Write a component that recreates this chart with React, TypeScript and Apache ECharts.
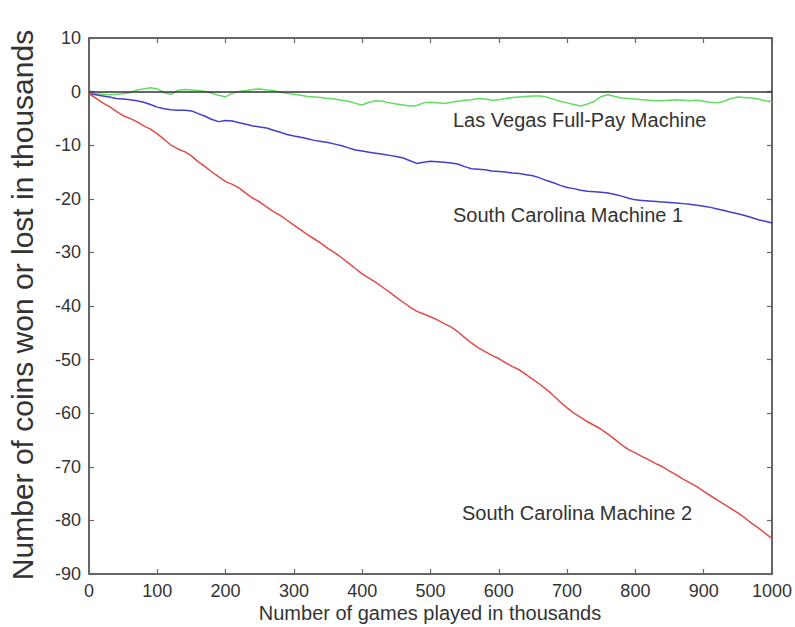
import React, { useEffect, useRef } from "react";
import * as echarts from "echarts";

const games = Array.from({ length: 101 }, (_, i) => i * 10);

const lasVegas = [
  -0.4, -0.4, -0.5, -0.6, -0.5, -0.4, -0.2, 0.3, 0.5, 0.7,
  0.5, -0.2, -0.5, 0.2, 0.4, 0.3, 0.2, 0.0, -0.3, -0.7,
  -1.0, -0.3, 0.0, 0.2, 0.4, 0.5, 0.3, 0.2, -0.1, -0.3,
  -0.5, -0.7, -0.9, -1.0, -1.1, -1.3, -1.4, -1.6, -1.8, -2.2,
  -2.5, -2.0, -1.7, -1.8, -2.1, -2.3, -2.5, -2.7, -2.6, -2.1,
  -2.0, -2.1, -2.2, -2.0, -1.8, -1.6, -1.5, -1.3, -1.4, -1.6,
  -1.5, -1.3, -1.1, -1.0, -0.9, -0.8, -0.8, -1.0, -1.4, -1.8,
  -2.1, -2.4, -2.7, -2.3, -1.8, -0.9, -0.6, -0.9, -1.2, -1.3,
  -1.4, -1.5, -1.6, -1.7, -1.7, -1.6, -1.5, -1.6, -1.7, -1.6,
  -1.8, -2.0, -2.1, -1.8, -1.3, -1.0, -1.1, -1.2, -1.4, -1.7,
  -1.9,
];

const southCarolina1 = [
  -0.4, -0.6, -0.8, -1.0, -1.3, -1.4, -1.5, -1.7, -2.0, -2.4,
  -2.9, -3.2, -3.4, -3.5, -3.5, -3.6, -4.1, -4.6, -5.2, -5.6,
  -5.4, -5.5, -5.8, -6.1, -6.4, -6.6, -6.8, -7.2, -7.6, -8.0,
  -8.3, -8.5, -8.8, -9.1, -9.3, -9.5, -9.8, -10.1, -10.5, -10.9,
  -11.1, -11.3, -11.5, -11.7, -11.9, -12.1, -12.4, -12.9, -13.4, -13.2,
  -13.0, -13.1, -13.2, -13.3, -13.5, -14.0, -14.4, -14.5, -14.6, -14.8,
  -14.9, -15.0, -15.2, -15.3, -15.5, -15.7, -16.1, -16.6, -17.0, -17.5,
  -17.9, -18.1, -18.4, -18.6, -18.7, -18.8, -18.9, -19.2, -19.5, -19.9,
  -20.2, -20.3, -20.4, -20.5, -20.6, -20.7, -20.8, -20.9, -21.0, -21.2,
  -21.4, -21.6, -21.9, -22.2, -22.5, -22.8, -23.1, -23.5, -23.9, -24.2,
  -24.5,
];

const southCarolina2 = [
  -0.4, -1.2, -2.1, -2.8, -3.7, -4.5, -5.0, -5.6, -6.4, -7.0,
  -7.9, -8.9, -10.0, -10.7, -11.2, -12.0, -13.1, -14.0, -15.0, -15.9,
  -16.8, -17.3, -18.0, -19.0, -19.9, -20.6, -21.5, -22.4, -23.1, -24.0,
  -24.9, -25.8, -26.7, -27.5, -28.3, -29.3, -30.1, -31.0, -32.0, -33.0,
  -34.0, -34.8, -35.6, -36.5, -37.4, -38.4, -39.3, -40.2, -41.0, -41.5,
  -42.0, -42.6, -43.3, -43.9, -44.8, -45.9, -46.9, -47.8, -48.5, -49.2,
  -49.8, -50.6, -51.3, -51.9, -52.8, -53.7, -54.6, -55.6, -56.7, -57.9,
  -59.0, -60.0, -60.8, -61.6, -62.3, -63.0, -63.9, -64.9, -65.9, -66.8,
  -67.4, -68.1, -68.7, -69.4, -70.0, -70.8, -71.5, -72.3, -73.0, -73.7,
  -74.6, -75.4, -76.2, -77.0, -77.8, -78.6, -79.5, -80.5, -81.4, -82.4,
  -83.4,
];

const seriesNames = ["Las Vegas Full-Pay Machine", "South Carolina Machine 1", "South Carolina Machine 2"];
const xTitle = "Number of games played in thousands";
const yTitle = "Number of coins won or lost in thousands";

const FONT = "'Liberation Sans', Arial, Helvetica, sans-serif";

export default function App() {
  const ref = useRef<HTMLDivElement>(null);
  useEffect(() => {
    if (!ref.current) return;
    const chart = echarts.init(ref.current, null, { renderer: "svg" });
    const pair = (vals: number[]) => games.map((g, i) => [g, vals[i]]);
    const axisLine = { show: true, onZero: false, lineStyle: { color: "#666", width: 2 } };
    const tick = { show: true, inside: true, length: 5, lineStyle: { color: "#666", width: 1.2 } };
    const labelStyle = { color: "#333", fontSize: 18, fontFamily: FONT };
    const option: any = {
      animation: false,
      backgroundColor: "#ffffff",
      grid: { left: 89, right: 23, top: 38, bottom: 53, containLabel: false },
      xAxis: [
        {
          type: "value", min: 0, max: 1000, interval: 100, position: "bottom",
          axisLine, axisTick: tick, splitLine: { show: false },
          axisLabel: { ...labelStyle, margin: 8, formatter: (v: number) => String(v) },
        },
        {
          type: "value", min: 0, max: 1000, interval: 100, position: "top",
          axisLine, axisTick: tick, splitLine: { show: false }, axisLabel: { show: false },
        },
      ],
      yAxis: [
        {
          type: "value", min: -90, max: 10, interval: 10, position: "left",
          axisLine, axisTick: tick, splitLine: { show: false },
          axisLabel: { ...labelStyle, margin: 8, formatter: (v: number) => String(v) },
        },
        {
          type: "value", min: -90, max: 10, interval: 10, position: "right",
          axisLine, axisTick: tick, splitLine: { show: false }, axisLabel: { show: false },
        },
      ],
      series: [
        {
          name: seriesNames[0], type: "line", data: pair(lasVegas), showSymbol: false,
          lineStyle: { color: "#62dc62", width: 1.5 }, itemStyle: { color: "#62dc62" }, z: 3,
          markLine: {
            silent: true, symbol: "none", label: { show: false },
            lineStyle: { color: "#333", width: 1.5, type: "solid" },
            data: [{ yAxis: 0 }],
          },
        },
        {
          name: seriesNames[1], type: "line", data: pair(southCarolina1), showSymbol: false,
          lineStyle: { color: "#4040cc", width: 1.5 }, itemStyle: { color: "#4040cc" }, z: 3,
        },
        {
          name: seriesNames[2], type: "line", data: pair(southCarolina2), showSymbol: false,
          lineStyle: { color: "#e24a4a", width: 1.5 }, itemStyle: { color: "#e24a4a" }, z: 3,
        },
      ],
      graphic: [
        {
          type: "text", x: 22, y: 305, rotation: Math.PI / 2,
          style: { text: yTitle, fill: "#333", font: `30px ${FONT}`, align: "center", verticalAlign: "middle" },
        },
        {
          type: "text", x: 430, y: 613,
          style: { text: xTitle, fill: "#333", font: `20px ${FONT}`, align: "center", verticalAlign: "middle" },
        },
        {
          type: "text", x: 453, y: 120,
          style: { text: seriesNames[0], fill: "#333", font: `20px ${FONT}`, align: "left", verticalAlign: "middle" },
        },
        {
          type: "text", x: 453, y: 215,
          style: { text: seriesNames[1], fill: "#333", font: `20px ${FONT}`, align: "left", verticalAlign: "middle" },
        },
        {
          type: "text", x: 462, y: 513,
          style: { text: seriesNames[2], fill: "#333", font: `20px ${FONT}`, align: "left", verticalAlign: "middle" },
        },
      ],
    };
    chart.setOption(option);
    return () => chart.dispose();
  }, []);
  return <div ref={ref} style={{ position: "fixed", left: 0, top: 0, width: 795, height: 627 }} />;
}
